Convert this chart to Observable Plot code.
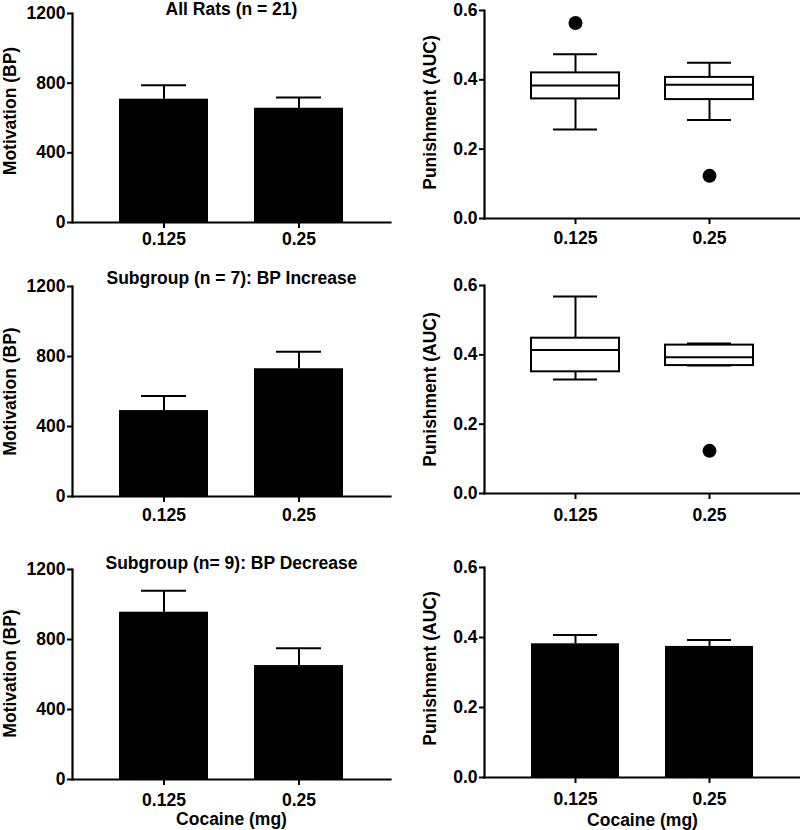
<!DOCTYPE html>
<html>
<head>
<meta charset="utf-8">
<script src="https://cdn.jsdelivr.net/npm/d3@7"></script>
<script src="https://cdn.jsdelivr.net/npm/@observablehq/plot@0.6"></script>
<style>
  html, body { margin: 0; padding: 0; background: #fff; }
  #root { position: relative; width: 800px; height: 830px; overflow: hidden; }
  .panel { position: absolute; }
</style>
</head>
<body>
<div id="root"></div>
<script>
// ---- Data ----
const doses = ["0.125", "0.25"];
const motivationTicks = [0, 400, 800, 1200];
const punishmentTicks = [0, 0.2, 0.4, 0.6];

const titles = ["All Rats (n = 21)", "Subgroup (n = 7): BP Increase", "Subgroup (n= 9): BP Decrease"];
const yLabelLeft = "Motivation (BP)";
const yLabelRight = "Punishment (AUC)";
const xLabel = "Cocaine (mg)";

// Motivation (BP): mean and mean+SEM
const bpAllMean = [708, 656];
const bpAllTop = [788, 718];
const bpIncMean = [491, 730];
const bpIncTop = [574, 827];
const bpDecMean = [956, 651];
const bpDecTop = [1078, 750];

// Punishment (AUC) box plots: min, q1, median, q3, max
const aucAllMin = [0.257, 0.284];
const aucAllQ1 = [0.345, 0.343];
const aucAllMed = [0.384, 0.386];
const aucAllQ3 = [0.420, 0.407];
const aucAllMax = [0.474, 0.449];
const aucAllOutlierDose = ["0.125", "0.25"];
const aucAllOutlierVal = [0.564, 0.123];

const aucIncMin = [0.329, 0.369];
const aucIncQ1 = [0.351, 0.369];
const aucIncMed = [0.414, 0.393];
const aucIncQ3 = [0.448, 0.428];
const aucIncMax = [0.568, 0.433];
const aucIncOutlierDose = ["0.25"];
const aucIncOutlierVal = [0.123];

// Punishment (AUC) decrease subgroup: mean and mean+SEM
const aucDecMean = [0.382, 0.3745];
const aucDecTop = [0.407, 0.3926];

// ---- Helpers ----
const FONT = "'Liberation Sans', Arial, 'DejaVu Sans', sans-serif";
const root = document.getElementById("root");

function place(node, left, top) {
  const wrap = document.createElement("div");
  wrap.className = "panel";
  wrap.style.left = left + "px";
  wrap.style.top = top + "px";
  wrap.appendChild(node);
  root.appendChild(wrap);
}

function basePanel(cfg, marks) {
  const yFormat = cfg.kind === "bp" ? d3.format("d") : d3.format(".1f");
  const extra = [];
  if (cfg.title) {
    extra.push(Plot.text([cfg.title], {frameAnchor: "top", textAnchor: "middle", lineAnchor: "bottom", dy: cfg.titleDy ?? -1, text: d => d, fontWeight: "bold"}));
  }
  if (cfg.xLabel) {
    extra.push(Plot.text([cfg.xLabel], {frameAnchor: "bottom", textAnchor: "middle", lineAnchor: "top", dy: cfg.xLabelDy, text: d => d, fontWeight: "bold"}));
  }
  extra.push(Plot.text([cfg.yLabel], {frameAnchor: "left", textAnchor: "middle", lineAnchor: "top", rotate: -90, dx: -cfg.yLabelOffset, dy: cfg.yLabelDy ?? 0, text: d => d, fontWeight: "bold"}));
  return Plot.plot({
    width: cfg.width,
    height: cfg.height,
    marginLeft: cfg.marginLeft,
    marginRight: cfg.marginRight,
    marginTop: cfg.marginTop,
    marginBottom: cfg.marginBottom,
    style: {fontFamily: FONT, fontSize: "17.5px", fontWeight: "bold", color: "#000", background: "transparent", overflow: "visible"},
    x: {domain: doses, paddingInner: 0.34, paddingOuter: 0.345, axis: null},
    y: {domain: cfg.kind === "bp" ? [0, 1200] : [0, 0.6], axis: null},
    marks: [
      ...marks,
      Plot.axisX({tickSize: 6, tickPadding: cfg.xTickPad, strokeWidth: 2, fontWeight: "bold", label: null}),
      Plot.axisY({ticks: cfg.kind === "bp" ? motivationTicks : punishmentTicks, tickFormat: yFormat, tickSize: 5, tickPadding: 2, strokeWidth: 2, fontWeight: "bold", label: null}),
      Plot.frame({anchor: "left", strokeWidth: 2.2, stroke: "#000"}),
      Plot.frame({anchor: "bottom", strokeWidth: 2.2, stroke: "#000"}),
      ...extra
    ]
  });
}

function barMarks(means, tops) {
  const rows = doses.map((d, i) => ({dose: d, mean: means[i], top: tops[i]}));
  return [
    Plot.ruleX(rows, {x: "dose", y1: "mean", y2: "top", stroke: "#000", strokeWidth: 2}),
    Plot.tickY(rows, {x: "dose", y: "top", stroke: "#000", strokeWidth: 2, insetLeft: 22, insetRight: 22}),
    Plot.barY(rows, {x: "dose", y: "mean", fill: "#000"})
  ];
}

function boxMarks(mn, q1, med, q3, mx, oDose, oVal) {
  const rows = doses.map((d, i) => ({dose: d, min: mn[i], q1: q1[i], med: med[i], q3: q3[i], max: mx[i]}));
  const outs = oDose.map((d, i) => ({dose: d, v: oVal[i]}));
  return [
    Plot.ruleX(rows, {x: "dose", y1: "min", y2: "q1", stroke: "#000", strokeWidth: 2}),
    Plot.ruleX(rows, {x: "dose", y1: "q3", y2: "max", stroke: "#000", strokeWidth: 2}),
    Plot.tickY(rows, {x: "dose", y: "min", stroke: "#000", strokeWidth: 2, insetLeft: 22, insetRight: 22}),
    Plot.tickY(rows, {x: "dose", y: "max", stroke: "#000", strokeWidth: 2, insetLeft: 22, insetRight: 22}),
    Plot.barY(rows, {x: "dose", y1: "q1", y2: "q3", fill: "#fff", stroke: "#000", strokeWidth: 2}),
    Plot.tickY(rows, {x: "dose", y: "med", stroke: "#000", strokeWidth: 2}),
    Plot.dot(outs, {x: "dose", y: "v", r: 7, fill: "#000", stroke: null})
  ];
}

// ---- Left column ----
place(basePanel({kind: "bp", width: 400, height: 262, marginLeft: 72, marginRight: 10, marginTop: 13, marginBottom: 40,
  title: titles[0], titleDy: 1, yLabel: yLabelLeft, yLabelOffset: 69, yLabelDy: -7, xTickPad: 4},
  barMarks(bpAllMean, bpAllTop)), 0, 0);

place(basePanel({kind: "bp", width: 400, height: 274, marginLeft: 72, marginRight: 10, marginTop: 24, marginBottom: 40,
  title: titles[1], titleDy: -3, yLabel: yLabelLeft, yLabelOffset: 69, xTickPad: 6},
  barMarks(bpIncMean, bpIncTop)), 0, 262);

place(basePanel({kind: "bp", width: 400, height: 284, marginLeft: 72, marginRight: 10, marginTop: 24, marginBottom: 50,
  title: titles[2], titleDy: -1, yLabel: yLabelLeft, yLabelOffset: 69, yLabelDy: -1, xTickPad: 8, xLabel: xLabel, xLabelDy: 33},
  barMarks(bpDecMean, bpDecTop)), 0, 545);

// ---- Right column ----
place(basePanel({kind: "auc", width: 400, height: 258, marginLeft: 84, marginRight: 0, marginTop: 10, marginBottom: 40,
  yLabel: yLabelRight, yLabelOffset: 61, yLabelDy: -2, xTickPad: 7},
  boxMarks(aucAllMin, aucAllQ1, aucAllMed, aucAllQ3, aucAllMax, aucAllOutlierDose, aucAllOutlierVal)), 400, 0);

place(basePanel({kind: "auc", width: 400, height: 271, marginLeft: 84, marginRight: 0, marginTop: 23, marginBottom: 40,
  yLabel: yLabelRight, yLabelOffset: 61, xTickPad: 9},
  boxMarks(aucIncMin, aucIncQ1, aucIncMed, aucIncQ3, aucIncMax, aucIncOutlierDose, aucIncOutlierVal)), 400, 262);

place(basePanel({kind: "auc", width: 400, height: 282, marginLeft: 84, marginRight: 0, marginTop: 22, marginBottom: 50,
  yLabel: yLabelRight, yLabelOffset: 61, yLabelDy: -4, xTickPad: 9, xLabel: xLabel, xLabelDy: 36},
  barMarks(aucDecMean, aucDecTop)), 400, 545);
</script>
</body>
</html>
